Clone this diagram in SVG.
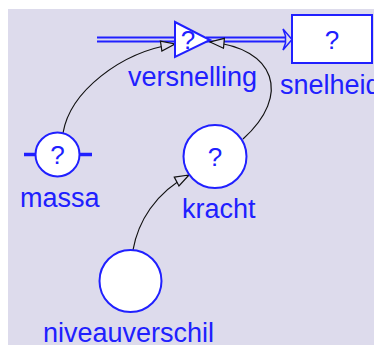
<svg xmlns="http://www.w3.org/2000/svg" width="374" height="345" viewBox="0 0 374 345">
  <style>
    .lbl { font-family: "Liberation Sans", Arial, sans-serif; font-size: 27px; fill: #2020ff; }
    .q { font-family: "Liberation Sans", Arial, sans-serif; font-size: 26px; fill: #2020ff; text-anchor: middle; }
    .node { fill: #ffffff; stroke: #2020ff; stroke-width: 2; }
    .flow { stroke: #2020ff; stroke-width: 2; fill: none; }
    .link { stroke: #111111; stroke-width: 1.2; fill: none; }
  </style>
  <defs>
    <marker id="open" markerWidth="16" markerHeight="12" refX="15" refY="6" orient="auto" markerUnits="userSpaceOnUse">
      <path d="M1,1 L15,6 L1,11 Z" fill="#dddbec" stroke="#111111" stroke-width="1.2"/>
    </marker>
  </defs>

  <!-- canvas -->
  <rect x="0" y="0" width="374" height="345" fill="#ffffff"/>
  <rect x="8" y="9" width="366" height="336" fill="#dddbec"/>

  <!-- flows -->
  <g id="flows">
    <line class="flow" x1="97" y1="37.5" x2="176" y2="37.5"/>
    <line class="flow" x1="97" y1="41.5" x2="176" y2="41.5"/>
    <line class="flow" x1="206" y1="37.5" x2="286" y2="37.5"/>
    <line class="flow" x1="206" y1="41.5" x2="286" y2="41.5"/>
    <polygon points="283,29 292,39.5 283,50 285.5,43 285.5,36" fill="#dddbec" stroke="#2020ff" stroke-width="1.5"/>
  </g>

  <!-- connectors -->
  <g id="connectors">
    <path class="link" d="M63,133 C70,92 120,52 175,44" marker-end="url(#open)"/>
    <path class="link" d="M243,139 C292,95 275,48 210,42" marker-end="url(#open)"/>
    <path class="link" d="M133,250 C138,222 155,193 189,175" marker-end="url(#open)"/>
  </g>

  <!-- versnelling -->
  <g id="versnelling">
    <polygon class="node" points="175,22 175,57 210,40"/>
    <text class="q" x="188" y="49">?</text>
    <text class="lbl" x="128" y="86">versnelling</text>
  </g>

  <!-- snelheid -->
  <g id="snelheid">
    <rect class="node" x="292" y="15" width="80" height="48"/>
    <text class="q" x="332" y="49">?</text>
    <text class="lbl" x="280" y="94">snelheid</text>
  </g>

  <!-- massa -->
  <g id="massa">
    <line x1="24" y1="154.5" x2="36" y2="154.5" stroke="#2020ff" stroke-width="3.5"/>
    <line x1="79" y1="154.5" x2="92" y2="154.5" stroke="#2020ff" stroke-width="3.5"/>
    <circle class="node" cx="57.5" cy="154.5" r="22"/>
    <text class="q" x="57.5" y="164">?</text>
    <text class="lbl" x="20" y="207">massa</text>
  </g>

  <!-- kracht -->
  <g id="kracht">
    <circle class="node" cx="215" cy="156.5" r="31.5"/>
    <text class="q" x="215" y="166">?</text>
    <text class="lbl" x="182" y="218">kracht</text>
  </g>

  <!-- niveauverschil -->
  <g id="niveauverschil">
    <circle class="node" cx="130.5" cy="281" r="31"/>
    <text class="lbl" x="43" y="342">niveauverschil</text>
  </g>
</svg>
